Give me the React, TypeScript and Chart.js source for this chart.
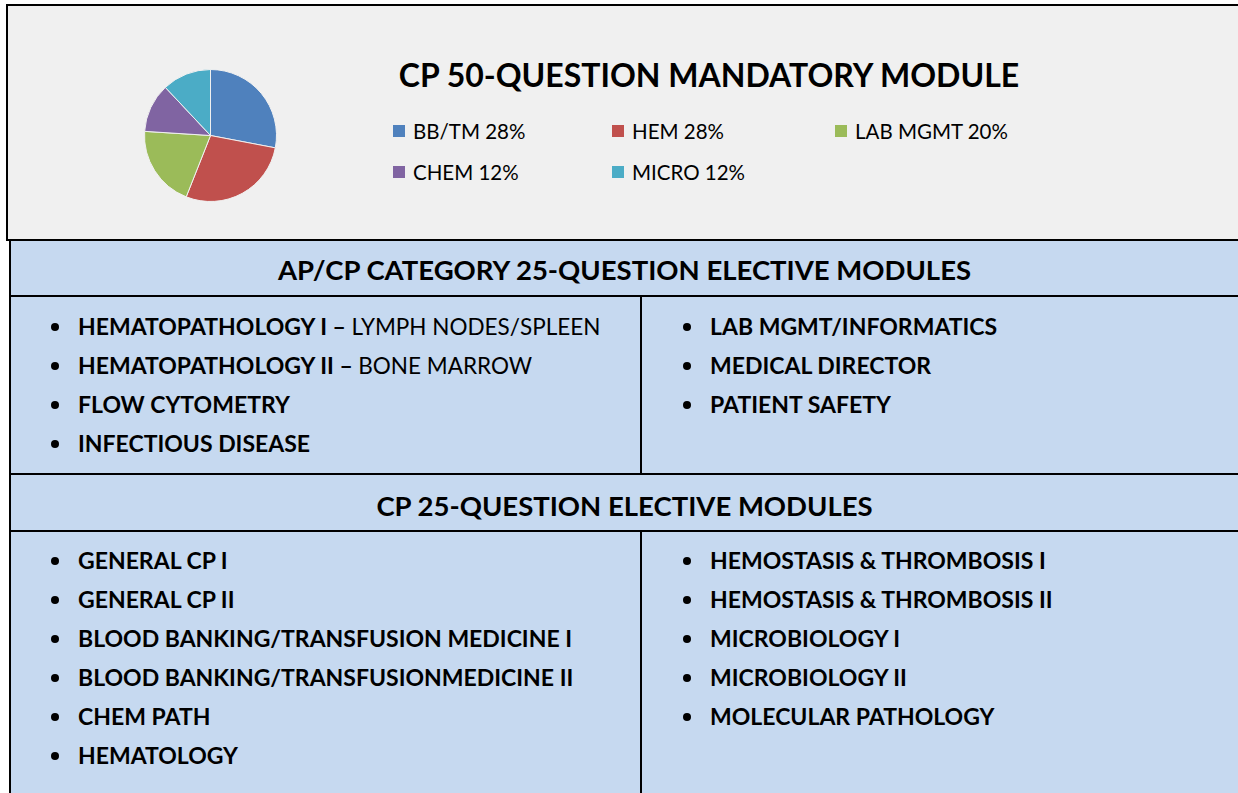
import React, { useEffect, useRef } from "react";
import { Chart, registerables } from "chart.js";

Chart.register(...registerables);

const title = "CP 50-QUESTION MANDATORY MODULE";
const categories = ["BB/TM", "HEM", "LAB MGMT", "CHEM", "MICRO"];
const values = [28, 28, 20, 12, 12];
const colors = ["#4f81bd", "#c0504d", "#9bbb59", "#8064a2", "#4bacc6"];

const header1 = "AP/CP CATEGORY 25-QUESTION ELECTIVE MODULES";
const apcpLeft: [string, string][] = [
  ["HEMATOPATHOLOGY I – ", "LYMPH NODES/SPLEEN"],
  ["HEMATOPATHOLOGY II – ", "BONE MARROW"],
  ["FLOW CYTOMETRY", ""],
  ["INFECTIOUS DISEASE", ""],
];
const apcpRight: [string, string][] = [
  ["LAB MGMT/INFORMATICS", ""],
  ["MEDICAL DIRECTOR", ""],
  ["PATIENT SAFETY", ""],
];
const header2 = "CP 25-QUESTION ELECTIVE MODULES";
const cpLeft: [string, string][] = [
  ["GENERAL CP I", ""],
  ["GENERAL CP II", ""],
  ["BLOOD BANKING/TRANSFUSION MEDICINE I", ""],
  ["BLOOD BANKING/TRANSFUSIONMEDICINE II", ""],
  ["CHEM PATH", ""],
  ["HEMATOLOGY", ""],
];
const cpRight: [string, string][] = [
  ["HEMOSTASIS & THROMBOSIS I", ""],
  ["HEMOSTASIS & THROMBOSIS II", ""],
  ["MICROBIOLOGY I", ""],
  ["MICROBIOLOGY II", ""],
  ["MOLECULAR PATHOLOGY", ""],
];

const FONT = "Lato, 'Open Sans', sans-serif";

function ItemList({ items, left, top }: { items: [string, string][]; left: number; top: number }) {
  return (
    <div style={{ position: "absolute", left, top }}>
      {items.map((it, i) => (
        <div key={i} style={{ position: "relative", height: 39, lineHeight: "39px", whiteSpace: "nowrap", fontSize: 23, color: "#000" }}>
          <span style={{ position: "absolute", left: -27, top: 16, width: 8, height: 8, borderRadius: 4, background: "#000" }} />
          <span style={{ fontWeight: 700 }}>{it[0]}</span>
          <span style={{ fontWeight: 400, fontSize: 22.5 }}>{it[1]}</span>
        </div>
      ))}
    </div>
  );
}

export default function App() {
  const canvasRef = useRef<HTMLCanvasElement | null>(null);
  useEffect(() => {
    if (!canvasRef.current) return;
    const chart = new Chart(canvasRef.current, {
      type: "pie",
      data: {
        labels: categories,
        datasets: [{ data: values, backgroundColor: colors, borderColor: "#f0f0f0", borderWidth: 1 }],
      },
      options: {
        animation: false,
        responsive: false,
        plugins: { legend: { display: false }, tooltip: { enabled: false }, title: { display: false } },
        layout: { padding: 0 },
      },
    });
    return () => chart.destroy();
  }, []);

  const line = "#000";
  return (
    <div style={{ position: "fixed", left: 0, top: 0, width: 1238, height: 793, overflow: "hidden", background: "#fff", fontFamily: FONT }}>
      {/* top box */}
      <div style={{ position: "absolute", left: 6, top: 4, width: 1250, height: 233, border: `2px solid ${line}`, background: "#f0f0f0" }} />
      <div style={{ position: "absolute", left: 144, top: 69, width: 133, height: 133 }}>
        <canvas ref={canvasRef} width={133} height={133} style={{ display: "block" }} />
      </div>
      <div style={{ position: "absolute", left: 398, top: 52, width: 622, textAlign: "center", fontWeight: 700, fontSize: 32, lineHeight: "46px", whiteSpace: "nowrap" }}>
        {title}
      </div>
      {categories.map((c, i) => {
        const col = i % 3;
        const row = Math.floor(i / 3);
        const lx = [393, 612, 835][col];
        const ly = [131, 172][row];
        return (
          <div key={c} style={{ position: "absolute", left: lx, top: ly - 14, height: 28, display: "flex", alignItems: "center", whiteSpace: "nowrap", fontSize: 20.5 }}>
            <span style={{ width: 12, height: 12, background: colors[i], marginRight: 8, display: "inline-block" }} />
            <span>{`${c} ${values[i]}%`}</span>
          </div>
        );
      })}

      {/* blue table */}
      <div style={{ position: "absolute", left: 9, top: 239, width: 1250, height: 600, background: "#c6d9f0", borderLeft: `2px solid ${line}`, borderTop: `2px solid ${line}` }} />
      <div style={{ position: "absolute", left: 9, top: 295, width: 1250, height: 2, background: line }} />
      <div style={{ position: "absolute", left: 9, top: 473, width: 1250, height: 2, background: line }} />
      <div style={{ position: "absolute", left: 9, top: 530, width: 1250, height: 2, background: line }} />
      <div style={{ position: "absolute", left: 640, top: 297, width: 2, height: 176, background: line }} />
      <div style={{ position: "absolute", left: 640, top: 532, width: 2, height: 270, background: line }} />

      <div style={{ position: "absolute", left: 11, top: 243, width: 1227, height: 54, lineHeight: "54px", textAlign: "center", fontWeight: 700, fontSize: 27.5, whiteSpace: "nowrap" }}>
        {header1}
      </div>
      <div style={{ position: "absolute", left: 11, top: 478, width: 1227, height: 55, lineHeight: "55px", textAlign: "center", fontWeight: 700, fontSize: 27.5, whiteSpace: "nowrap" }}>
        {header2}
      </div>

      <ItemList items={apcpLeft} left={78} top={307} />
      <ItemList items={apcpRight} left={710} top={307} />
      <ItemList items={cpLeft} left={78} top={541} />
      <ItemList items={cpRight} left={710} top={541} />
    </div>
  );
}
